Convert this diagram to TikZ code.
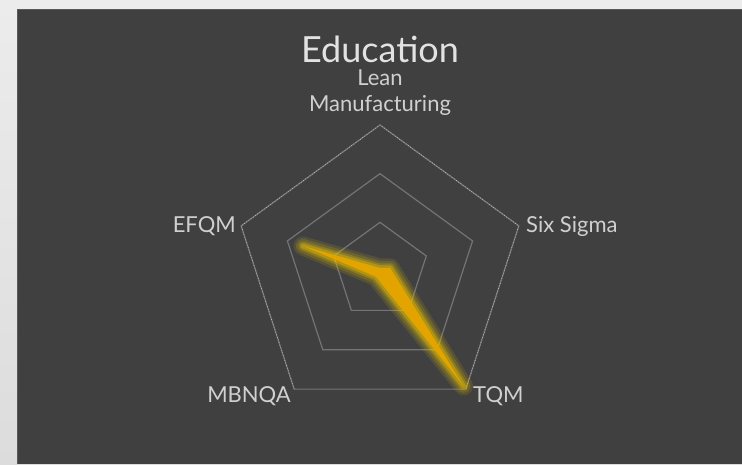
\documentclass[tikz,border=0pt]{standalone}
\usepackage{fontspec}
\setmainfont{Lato}
\definecolor{panel}{HTML}{404040}
\definecolor{pagetop}{HTML}{ECECEC}
\definecolor{pagebottom}{HTML}{DCDCDC}
\definecolor{grid}{HTML}{747474}
\definecolor{labelgray}{HTML}{D0D0D0}
\definecolor{titlegray}{HTML}{E2E2E2}
\definecolor{gold}{HTML}{E3A400}
\definecolor{glow}{HTML}{F0C800}
\tikzstyle{ring}=[grid,line width=1.2pt,line join=miter]
\tikzstyle{speckle}=[white!55!grid,dotted,line width=.7pt]
\tikzstyle{halo}=[glow,line join=round,line cap=round]
\tikzstyle{axislabel}=[text=labelgray,inner sep=0pt,font=\fontsize{22}{26}\selectfont]
\tikzstyle{charttitle}=[text=titlegray,inner sep=0pt,font=\fontsize{36}{40}\selectfont]

\begin{document}
\begin{tikzpicture}[x=1pt,y=1pt]
        \useasboundingbox (-380,-193) rectangle (362,271);
        \shade[top color=pagetop,bottom color=pagebottom] (-380,-193) rectangle (362,271);
        \fill[panel] (-363,-193) rectangle (362,262);
        \draw[gray!70!black,line width=.8pt] (-363,-193)--(-363,262)--(362,262);
        % grid rings
        \foreach \r in {48.67,97.33,146}
          \draw[ring] (90:\r)--(18:\r)--(-54:\r)--(-126:\r)--(162:\r)--cycle;
        \draw[speckle] (-126:146)--(162:146)--(90:146)--(18:146)--(-54:146);
        % series
        \coordinate (lean) at (90:3);
        \coordinate (six) at (18:10.5);
        \coordinate (tqm) at (-54:142);
        \coordinate (mbnqa) at (-126:7);
        \coordinate (efqm) at (162:81);
        \foreach \w/\o in {19/.12,14/.16,9/.24,5/.35}
          \draw[halo,line width=\w pt,opacity=\o] (lean)--(six)--(tqm)--(mbnqa)--(efqm)--cycle;
        \fill[gold] (lean)--(six)--(tqm)--(mbnqa)--(efqm)--cycle;
        % labels
        \node[charttitle,anchor=base] (title) at (0,209) {Education};
        \node[axislabel,anchor=base,align=center] (leanlbl) at (0,160) {Lean\\Manufacturing};
        \node[axislabel,anchor=base west] (sixlbl) at (146,39) {Six Sigma};
        \node[axislabel,anchor=base west] (tqmlbl) at (93,-131) {TQM};
        \node[axislabel,anchor=base east] (mbnqalbl) at (-89,-131) {MBNQA};
        \node[axislabel,anchor=base east] (efqmlbl) at (-144,39) {EFQM};
      \end{tikzpicture}
\end{document}
